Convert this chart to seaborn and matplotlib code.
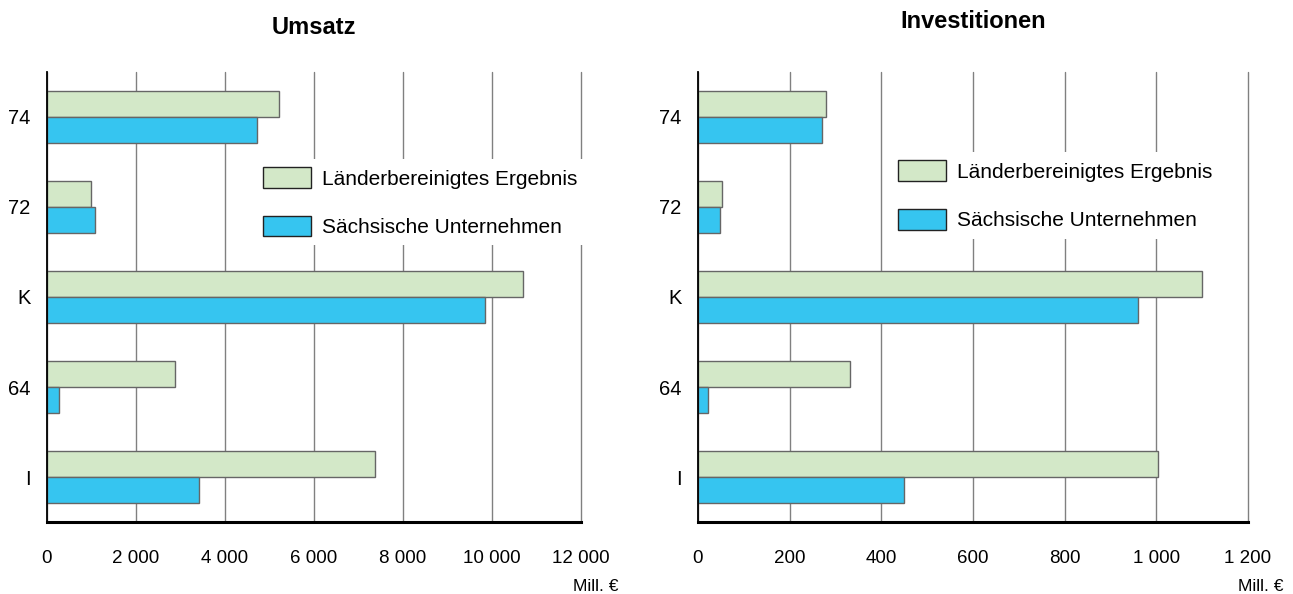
import pandas as pd
import matplotlib.pyplot as plt
import seaborn as sns
from matplotlib.ticker import FuncFormatter

categories = ["74", "72", "K", "64", "I"]
series = ["Länderbereinigtes Ergebnis", "Sächsische Unternehmen"]

umsatz_land = [5220, 990, 10700, 2880, 7370]
umsatz_sachsen = [4710, 1070, 9850, 260, 3410]

invest_land = [279, 52, 1100, 331, 1004]
invest_sachsen = [271, 47, 960, 22, 450]

umsatz_ticks = [0, 2000, 4000, 6000, 8000, 10000, 12000]
invest_ticks = [0, 200, 400, 600, 800, 1000, 1200]

colors = ["#d3e8c8", "#36c5f0"]


def long_table(land, sachsen):
    rows = []
    for cat, a, b in zip(categories, land, sachsen):
        rows.append({"cat": cat, "serie": series[0], "wert": a})
        rows.append({"cat": cat, "serie": series[1], "wert": b})
    return pd.DataFrame(rows)


def thousands(v, pos):
    return f"{int(v):,}".replace(",", " ")


sns.set_style("white")
plt.rcParams["font.family"] = ["Liberation Sans", "DejaVu Sans"]
plt.rcParams["text.color"] = "black"
plt.rcParams["xtick.color"] = "black"
plt.rcParams["ytick.color"] = "black"

fig = plt.figure(figsize=(12.93, 5.94), dpi=100)
ax1 = fig.add_axes([0.0363, 0.1212, 0.4130, 0.7576])
ax2 = fig.add_axes([0.5398, 0.1212, 0.4254, 0.7576])

panels = [
    (ax1, long_table(umsatz_land, umsatz_sachsen), "Umsatz", umsatz_ticks, (0.37, 0.83), 27),
    (ax2, long_table(invest_land, invest_sachsen), "Investitionen", invest_ticks, (0.33, 0.845), 32),
]

for ax, df, title, ticks, leg_pos, tpad in panels:
    sns.barplot(data=df, y="cat", x="wert", hue="serie", hue_order=series,
                palette=colors, order=categories, width=0.58, ax=ax,
                edgecolor="#666666", linewidth=1.0, saturation=1)
    ax.set_xlim(ticks[0], ticks[-1])
    ax.set_ylim(len(categories) - 0.5, -0.5)
    ax.set_xticks(ticks)
    ax.xaxis.set_major_formatter(FuncFormatter(thousands))
    ax.set_xlabel("")
    ax.set_ylabel("")
    ax.grid(axis="x", color="#808080", linewidth=1.0)
    for gl in ax.get_xgridlines():
        gl.set_clip_on(False)
    ax.set_axisbelow(True)
    for s in ["top", "right"]:
        ax.spines[s].set_visible(False)
    ax.spines["left"].set_color("black")
    ax.spines["left"].set_linewidth(1.3)
    ax.spines["bottom"].set_color("black")
    ax.spines["bottom"].set_linewidth(2.2)
    ax.tick_params(axis="x", direction="out", length=6, width=1,
                   pad=14, labelsize=13.5)
    ax.tick_params(axis="y", length=0, pad=12, labelsize=14.5)
    ax.set_title(title, fontsize=17, fontweight="bold", pad=tpad)
    leg = ax.legend(loc="upper left", bbox_to_anchor=leg_pos, frameon=True,
                    fontsize=15, handlelength=2.3, handleheight=1.15,
                    labelspacing=1.3, handletextpad=0.5, borderpad=0.4,
                    fancybox=False)
    leg.get_frame().set_facecolor("white")
    leg.get_frame().set_edgecolor("none")
    leg.get_frame().set_alpha(1)
    leg.set_zorder(5)
    for h in leg.legend_handles:
        h.set_edgecolor("#222222")

fig.text(0.478, 0.005, "Mill. €", ha="right", fontsize=12.5)
fig.text(0.993, 0.005, "Mill. €", ha="right", fontsize=12.5)

plt.savefig("out.png", dpi=100)
